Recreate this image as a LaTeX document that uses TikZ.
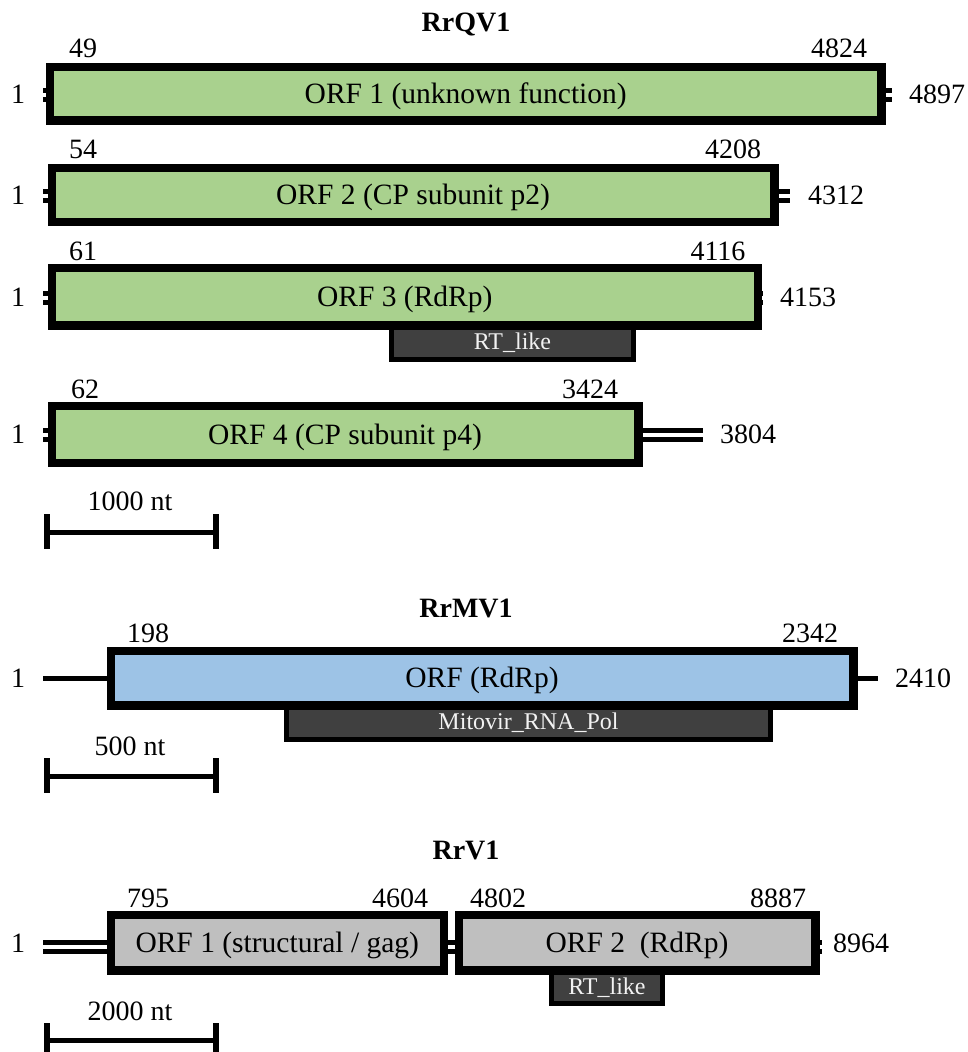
\documentclass[tikz,border=0pt]{standalone}
\usepackage{fontspec}
\setmainfont{Liberation Serif}
\definecolor{qgreen}{HTML}{A9D18E}
\definecolor{mblue}{HTML}{9DC3E6}
\definecolor{vgray}{HTML}{BFBFBF}
\definecolor{domdark}{HTML}{404040}
\definecolor{domtext}{HTML}{F2F2F2}
\tikzset{
  lab/.style={font=\fontsize{28}{30}\selectfont, inner sep=0pt, anchor=base},
  labw/.style={lab, anchor=base west},
  ttl/.style={inner sep=0pt, anchor=base, font=\bfseries\fontsize{28}{30}\selectfont},
  orfbox/.style={draw=black, line width=5.5pt, inner sep=0pt, text height=19.5pt, text depth=0pt,
    font=\fontsize{29.5}{31}\selectfont},
  dombox/.style={draw=black, line width=5pt, fill=domdark, text=domtext, inner sep=0pt,
    text height=16pt, text depth=0pt, font=\fontsize{24}{26}\selectfont},
  dsrna/.style={draw=black, line width=5pt, double=white, double distance=4pt},
  ssrna/.style={draw=black, line width=5pt},
  barline/.style={draw=black, line width=5pt},
  barend/.style={draw=black, line width=6pt}
}
\begin{document}
\begin{tikzpicture}[x=1pt,y=-1pt]
\useasboundingbox (0,0) rectangle (968,1052);

% ================= RrQV1 =================
\node[ttl] (tq) at (466,31) {RrQV1};

\coordinate (q1l) at (43,95);
\coordinate (q1r) at (892,95);
\coordinate (q2l) at (43,195.5);
\coordinate (q2r) at (790,195.5);
\coordinate (q3l) at (43,297.5);
\coordinate (q3r) at (763,297.5);
\coordinate (q4l) at (43,434.5);
\coordinate (q4r) at (703,434.5);

\node[dombox, minimum width=242pt, minimum height=35.3pt] (rt3) at (512.5,341.85) {RT\_like};

\node[orfbox, fill=qgreen, minimum width=828.5pt, minimum height=51pt] (q1) at (465.75,93.5) {ORF 1 (unknown function)};
\node[orfbox, fill=qgreen, minimum width=720pt, minimum height=51pt] (q2) at (413,194.75) {ORF 2 (CP subunit p2)};
\node[orfbox, fill=qgreen, minimum width=703.5pt, minimum height=54.5pt] (q3) at (404.75,296.95) {ORF 3 (RdRp)};
\node[orfbox, fill=qgreen, minimum width=584pt, minimum height=54pt] (q4) at (345,434.5) {ORF 4 (CP subunit p4)};

\draw[dsrna] (q1l) -- (q1l -| q1.west);
\draw[dsrna] (q1.east |- q1r) -- (q1r);
\draw[dsrna] (q2l) -- (q2l -| q2.west);
\draw[dsrna] (q2.east |- q2r) -- (q2r);
\draw[dsrna] (q3l) -- (q3l -| q3.west);
\draw[dsrna] (q3.east |- q3r) -- (q3r);
\draw[dsrna] (q4l) -- (q4l -| q4.west);
\draw[dsrna] (q4.east |- q4r) -- (q4r);
% redraw borders over stub ends
\draw[line width=5.5pt] (q1.north west) rectangle (q1.south east);
\draw[line width=5.5pt] (q2.north west) rectangle (q2.south east);
\draw[line width=5.5pt] (q3.north west) rectangle (q3.south east);
\draw[line width=5.5pt] (q4.north west) rectangle (q4.south east);

\node[lab] (q1s0) at (18,103) {1};
\node[lab] (q1s) at (83,57) {49};
\node[lab] (q1e) at (839,57) {4824};
\node[labw] (q1n) at (909,103) {4897};

\node[lab] (q2s0) at (18,204) {1};
\node[lab] (q2s) at (83,158) {54};
\node[lab] (q2e) at (733,158) {4208};
\node[labw] (q2n) at (808,204) {4312};

\node[lab] (q3s0) at (18,306) {1};
\node[lab] (q3s) at (83,260) {61};
\node[lab] (q3e) at (718,260) {4116};
\node[labw] (q3n) at (780,306) {4153};

\node[lab] (q4s0) at (18,443) {1};
\node[lab] (q4s) at (85,398) {62};
\node[lab] (q4e) at (590,398) {3424};
\node[labw] (q4n) at (720,443) {3804};

% scale bar 1000 nt
\node[lab] (sb1t) at (130,510) {1000 nt};
\coordinate (sb1a) at (46.7,532);
\coordinate (sb1b) at (216,532);
\draw[barline] (sb1a) -- (sb1b);
\draw[barend] ([yshift=18pt]sb1a) -- ([yshift=-17pt]sb1a);
\draw[barend] ([yshift=18pt]sb1b) -- ([yshift=-17pt]sb1b);

% ================= RrMV1 =================
\node[ttl] (tm) at (466,617) {RrMV1};
\coordinate (m1l) at (43,678);
\coordinate (m1r) at (878,678);
\node[dombox, minimum width=484pt, minimum height=35.5pt] (mrp) at (528.5,721.75) {Mitovir\_RNA\_Pol};
\node[orfbox, fill=mblue, minimum width=740pt, minimum height=52pt] (m1) at (482,678) {ORF (RdRp)};
\draw[ssrna] (m1l) -- (m1.west);
\draw[ssrna] (m1.east) -- (m1r);
\draw[line width=5.5pt] (m1.north west) rectangle (m1.south east);

\node[lab] (m1s0) at (18,687) {1};
\node[lab] (m1s) at (148,642) {198};
\node[lab] (m1e) at (810,642) {2342};
\node[labw] (m1n) at (895,687) {2410};

% scale bar 500 nt
\node[lab] (sb2t) at (130,755) {500 nt};
\coordinate (sb2a) at (46.7,776);
\coordinate (sb2b) at (216,776);
\draw[barline] (sb2a) -- (sb2b);
\draw[barend] ([yshift=18pt]sb2a) -- ([yshift=-17pt]sb2a);
\draw[barend] ([yshift=18pt]sb2b) -- ([yshift=-17pt]sb2b);

% ================= RrV1 =================
\node[ttl] (tv) at (466,859) {RrV1};
\coordinate (v1l) at (43,947);
\coordinate (v2r) at (822,947);
\node[dombox, minimum width=111pt, minimum height=34.5pt] (rtv) at (607,986.25) {RT\_like};
\node[orfbox, fill=vgray, minimum width=330.5pt, minimum height=52.5pt] (v1) at (277.25,942.75) {ORF 1 (structural / gag)};
\node[orfbox, fill=vgray, minimum width=354pt, minimum height=52.5pt] (v2) at (637,942.75) {ORF 2\ \ (RdRp)};
\draw[dsrna] (v1l) -- (v1l -| v1.west);
\draw[dsrna] (v1l -| v1.east) -- (v1l -| v2.west);
\draw[dsrna] (v2r -| v2.east) -- (v2r);
\draw[line width=5.5pt] (v1.north west) rectangle (v1.south east);
\draw[line width=5.5pt] (v2.north west) rectangle (v2.south east);

\node[lab] (v1s0) at (18,952) {1};
\node[lab] (v1s) at (148,907) {795};
\node[lab] (v1e) at (400,907) {4604};
\node[lab] (v2s) at (498,907) {4802};
\node[lab] (v2e) at (778,907) {8887};
\node[labw] (v2n) at (833,952) {8964};

% scale bar 2000 nt
\node[lab] (sb3t) at (130,1020) {2000 nt};
\coordinate (sb3a) at (46.7,1040);
\coordinate (sb3b) at (216,1040);
\draw[barline] (sb3a) -- (sb3b);
\draw[barend] ([yshift=17pt]sb3a) -- ([yshift=-18pt]sb3a);
\draw[barend] ([yshift=17pt]sb3b) -- ([yshift=-18pt]sb3b);
\end{tikzpicture}
\end{document}
